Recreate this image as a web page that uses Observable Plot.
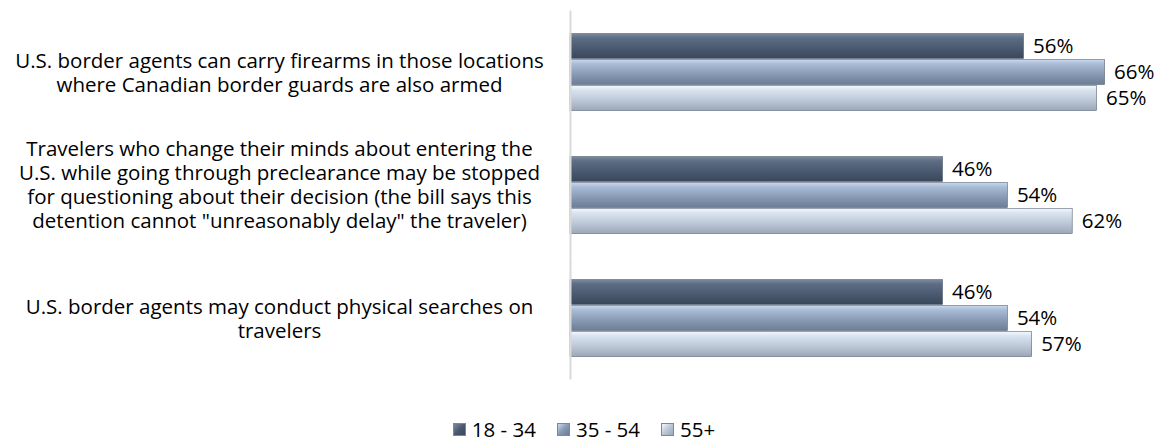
<!DOCTYPE html>
<html><head><meta charset="utf-8">
<script src="https://cdn.jsdelivr.net/npm/d3@7"></script>
<script src="https://cdn.jsdelivr.net/npm/@observablehq/plot@0.6"></script>
<style>
body{margin:0;background:#fff;width:1164px;height:441px;overflow:hidden;font-family:"Open Sans",sans-serif;}
#legend{display:flex;justify-content:center;align-items:center;gap:21px;margin-top:19px;height:20px;line-height:20px;font-size:20.5px;color:#000;padding-left:4px}
#legend .item{display:flex;align-items:center;gap:6px}
#legend .sw{width:13px;height:13px;border:1px solid #7d8796;box-sizing:border-box}
</style>
</head><body>
<div id="chart"></div>
<div id="legend"></div>
<script>
const categories = [
  "U.S. border agents can carry firearms in those locations\nwhere Canadian border guards are also armed",
  "Travelers who change their minds about entering the\nU.S. while going through preclearance may be stopped\nfor questioning about their decision (the bill says this\ndetention cannot \"unreasonably delay\" the traveler)",
  "U.S. border agents may conduct physical searches on\ntravelers"
];
const ages = ["18 - 34", "35 - 54", "55+"];
const values1834 = [56, 46, 46];
const values3554 = [66, 54, 54];
const values55 = [65, 62, 57];

const series = [values1834, values3554, values55];
const rows = [];
categories.forEach((c, i) => ages.forEach((a, j) => rows.push({category: c, age: a, value: series[j][i]})));

const gradients = [
  {id: "g0", stops: [["0%", "#7d8ba0"], ["18%", "#5d6d84"], ["60%", "#4a5970"], ["100%", "#3a475a"]]},
  {id: "g1", stops: [["0%", "#c9d9ee"], ["18%", "#a9bcd6"], ["60%", "#8799b3"], ["100%", "#6c7d96"]]},
  {id: "g2", stops: [["0%", "#f3f8ff"], ["18%", "#d9e3f0"], ["60%", "#bcc7d6"], ["100%", "#9ba6b7"]]}
];

const font = "'Open Sans', sans-serif";
const fs = 20.5;

const chart = Plot.plot({
  width: 1164,
  height: 400,
  marginLeft: 570,
  marginRight: 27,
  marginTop: 31,
  marginBottom: 41,
  style: {fontFamily: font, fontSize: fs + "px", background: "white", color: "#000", overflow: "visible"},
  x: {domain: [0, 70], axis: null},
  y: {domain: ages, axis: null, padding: 0},
  fy: {domain: categories, axis: null, paddingInner: 43 / 124, paddingOuter: 0},
  color: {type: "ordinal", domain: ages, range: gradients.map(g => `url(#${g.id})`)},
  marks: [
    Plot.barX(rows, {x: "value", y: "age", fy: "category", fill: "age", stroke: "#5b6677", strokeWidth: 0.6, insetTop: 0.5, insetBottom: 0.5}),
    Plot.text(rows, {x: "value", y: "age", fy: "category", text: d => d.value + "%", textAnchor: "start", dx: 9, fill: "#000", fontSize: fs}),
    Plot.ruleX([0], {stroke: "#d9d9d9", strokeWidth: 2, insetTop: -21.5, insetBottom: -21.5}),
    Plot.text(categories.filter(c => c.split("\n").length < 4), {fy: d => d, text: d => d, frameAnchor: "left", dx: -291, textAnchor: "middle", lineHeight: 24 / fs, fill: "#000", fontSize: fs}),
    Plot.text(categories.filter(c => c.split("\n").length >= 4), {fy: d => d, text: d => d, frameAnchor: "left", dx: -291, dy: -11, textAnchor: "middle", lineHeight: 24 / fs, fill: "#000", fontSize: fs})
  ]
});

const svg = d3.select(chart.tagName.toLowerCase() === "svg" ? chart : chart.querySelector("svg"));
const defs = svg.insert("defs", ":first-child");
gradients.forEach(g => {
  const lg = defs.append("linearGradient").attr("id", g.id).attr("x1", 0).attr("y1", 0).attr("x2", 0).attr("y2", 1);
  g.stops.forEach(([o, c]) => lg.append("stop").attr("offset", o).attr("stop-color", c));
});
document.getElementById("chart").appendChild(chart);

const legend = d3.select("#legend");
ages.forEach((a, j) => {
  const it = legend.append("div").attr("class", "item");
  const g = gradients[j].stops;
  it.append("div").attr("class", "sw").style("background", `linear-gradient(135deg, ${g[0][1]}, ${g[2][1]}, ${g[3][1]})`);
  it.append("span").text(a);
});
</script>
</body></html>
